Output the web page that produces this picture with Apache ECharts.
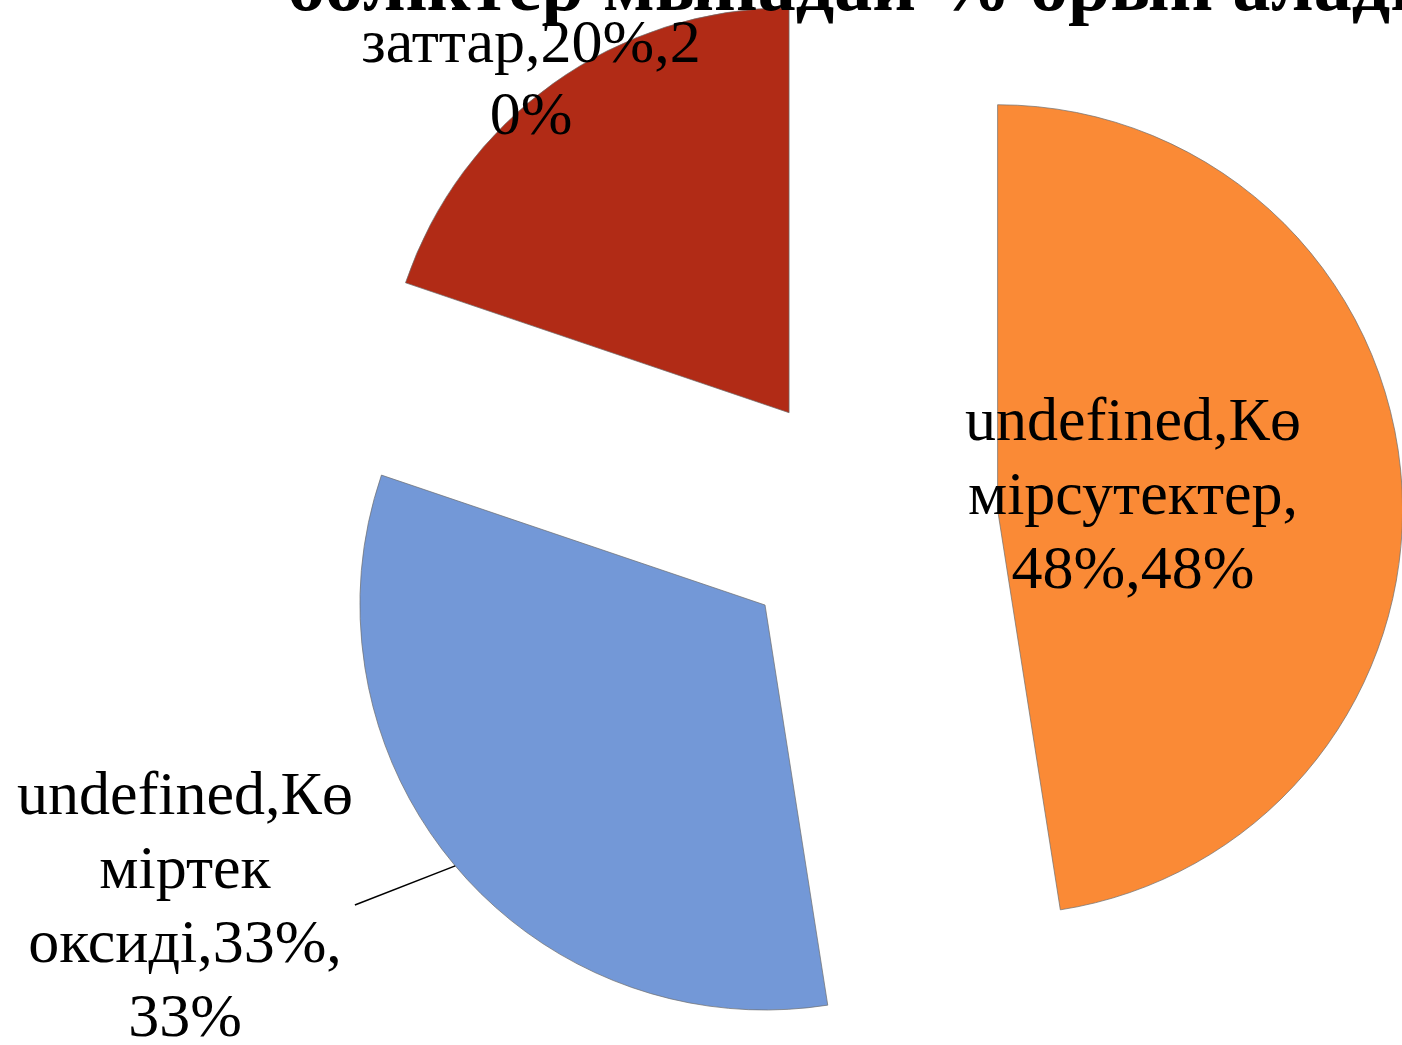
<!DOCTYPE html>
<html>
<head>
<meta charset="utf-8">
<script src="https://cdn.jsdelivr.net/npm/echarts@6/dist/echarts.min.js"></script>
<style>
html,body{margin:0;padding:0;background:#fff;}
#chart{width:1402px;height:1045px;}
</style>
</head>
<body>
<div id="chart"></div>
<script>
// ---- data ----
var titleText = 'бөліктер мынадай % орын алады';
var categories = ['Көмірсутектер', 'Көміртек оксиді', 'Басқа заттар'];
var values = [48, 33, 20];
var colors = ['#FA8A36', '#7398D7', '#B12B16'];
// where each data label wraps (character positions in the full label text)
var labelBreaks = [[12, 24], [12, 19, 30], [15, 28]];
// label anchor positions (pixels) for the three labels
var labelPos = [[1133, 498], [185, 909], [531, 46]];
var labelLineHeights = [74, 74, 72];

function labelText(i) {
  var full = 'undefined,' + categories[i] + ',' + values[i] + '%,' + values[i] + '%';
  var out = [], prev = 0;
  labelBreaks[i].forEach(function (b) { out.push(full.slice(prev, b).trim()); prev = b; });
  out.push(full.slice(prev).trim());
  return out.join('\n');
}

var LABEL_FONT = '62px "Liberation Serif"';
var SELECTED_OFFSET = 132;

var chart = echarts.init(document.getElementById('chart'), null, {renderer: 'canvas'});

var data = categories.map(function (c, i) {
  return {
    name: c,
    value: values[i],
    selected: true,
    itemStyle: {color: colors[i]}
  };
});

chart.setOption({
  animation: false,
  backgroundColor: '#ffffff',
  series: [{
    type: 'pie',
    center: [866, 520],
    radius: 405,
    startAngle: 90,
    clockwise: true,
    selectedMode: 'multiple',
    selectedOffset: SELECTED_OFFSET,
    avoidLabelOverlap: false,
    silent: true,
    itemStyle: {borderColor: 'rgba(110,110,110,0.7)', borderWidth: 1},
    emphasis: {disabled: true},
    label: {show: false},
    labelLine: {show: false},
    data: data
  }]
});

// text width helper
var measureCtx = document.createElement('canvas').getContext('2d');
measureCtx.font = LABEL_FONT;
function blockWidth(txt) {
  return Math.max.apply(null, txt.split('\n').map(function (l) { return measureCtx.measureText(l).width; }));
}

var graphics = [];
// data labels
categories.forEach(function (c, i) {
  graphics.push({
    type: 'text',
    x: labelPos[i][0],
    y: labelPos[i][1],
    z: 5,
    style: {
      text: labelText(i),
      font: LABEL_FONT,
      lineHeight: labelLineHeights[i],
      fill: '#000',
      align: 'center',
      verticalAlign: 'middle'
    }
  });
});

// leader line for the blue slice: from the middle of its (exploded) arc to the label's right edge
(function () {
  var sData = chart.getModel().getSeriesByIndex(0).getData();
  var lay = sData.getItemLayout(1);
  if (!lay) return;
  var mid = (lay.startAngle + lay.endAngle) / 2;
  var rr = lay.r + SELECTED_OFFSET;
  var p0 = [lay.cx + Math.cos(mid) * rr, lay.cy + Math.sin(mid) * rr];
  var w = blockWidth(labelText(1));
  var p1 = [labelPos[1][0] + w / 2 + 2, labelPos[1][1] - 4];
  graphics.push({
    type: 'line',
    z: 4,
    shape: {x1: p0[0], y1: p0[1], x2: p1[0], y2: p1[1]},
    style: {stroke: '#000', lineWidth: 1.5}
  });
})();

// title (only its last line is inside the picture)
graphics.push({
  type: 'text',
  x: 287,
  y: 28,
  z: 10,
  style: {
    text: titleText,
    font: 'bold 76px "Liberation Serif"',
    fill: '#000',
    align: 'left',
    verticalAlign: 'bottom'
  }
});

chart.setOption({graphic: graphics});
</script>
</body>
</html>
